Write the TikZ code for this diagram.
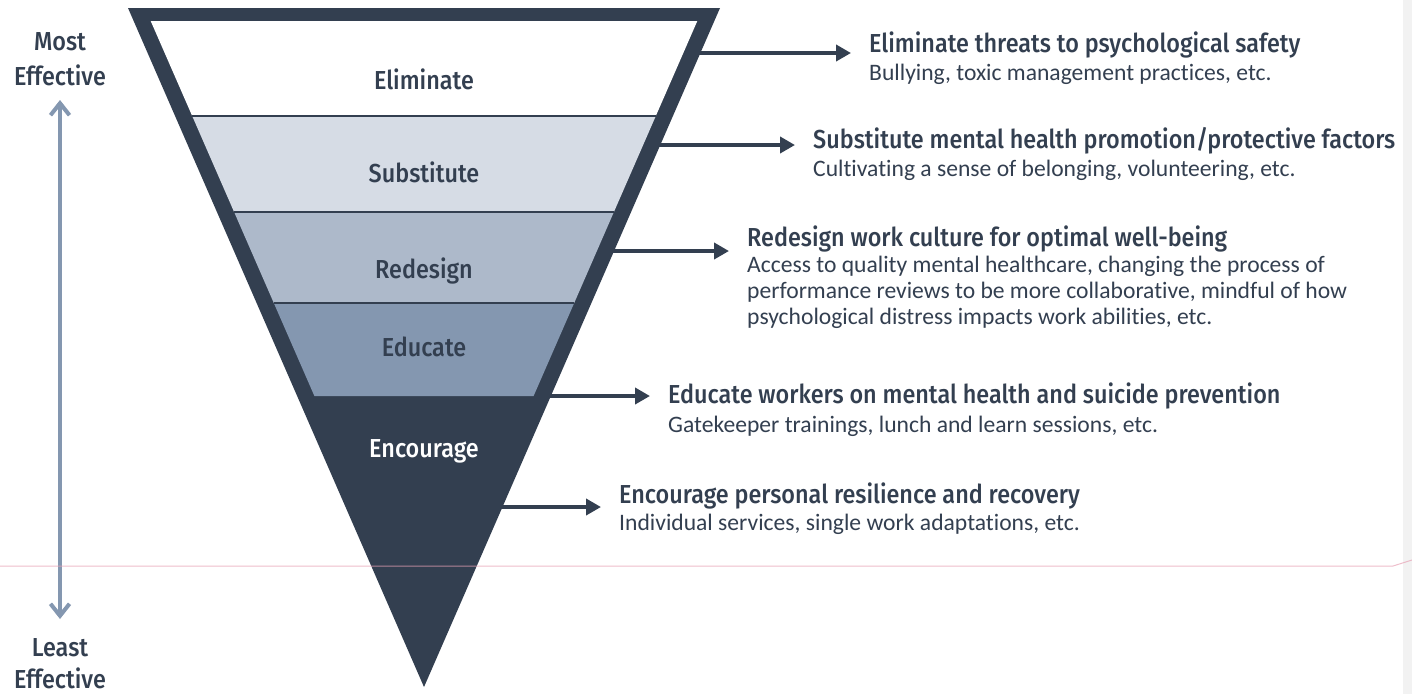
\documentclass[tikz,border=0pt]{standalone}
\usepackage{fontspec}
\setmainfont{Carlito}[Ligatures=NoCommon]
\newfontfamily\headfont[FakeStretch=0.9]{Fira Sans Medium}
\usetikzlibrary{arrows.meta}
\definecolor{navy}{HTML}{333F50}
\definecolor{bandB}{HTML}{D6DCE5}
\definecolor{bandC}{HTML}{ADB9CA}
\definecolor{bandD}{HTML}{8497B0}
\definecolor{axiscol}{HTML}{8497B0}
\definecolor{pinkline}{HTML}{E8A3B6}
\definecolor{stripcol}{HTML}{F2F2F2}
\begin{document}
\begin{tikzpicture}[x=1pt,y=-1pt,
  headtxt/.style={anchor=base west, inner sep=0pt, font=\headfont\fontsize{26}{30}\selectfont, text=navy},
  subtxt/.style={anchor=base west, inner sep=0pt, font=\fontsize{23.6}{27}\selectfont, text=navy},
  bandtxt/.style={anchor=base, inner sep=0pt, font=\headfont\fontsize{26}{30}\selectfont, text=navy},
  sidetxt/.style={anchor=base, inner sep=0pt, font=\headfont\fontsize{26}{30}\selectfont, text=navy},
  rarrow/.style={draw=navy, line width=4.5pt, -{Triangle[length=15pt,width=16pt]}, shorten >=18pt},
  axisarrow/.style={draw=axiscol, line width=4pt, {Straight Barb[length=12pt,width=19pt]}-{Straight Barb[length=12pt,width=19pt]}},
  sepline/.style={draw=navy, line width=2pt}]
\useasboundingbox (0,0) rectangle (1412,694);
\fill[white] (0,0) rectangle (1412,694);
\fill[stripcol] (1403,0) rectangle (1412,694);

% funnel
\fill[navy] (128,8) -- (720,8) -- (424,687) -- cycle;
\fill[white] (150.7,21) -- (697.3,21) -- (655.8,116) -- (192.2,116) -- cycle;
\fill[bandB] (192.2,116) -- (655.8,116) -- (613.9,212) -- (234.1,212) -- cycle;
\fill[bandC] (234.1,212) -- (613.9,212) -- (574.2,303) -- (273.8,303) -- cycle;
\fill[bandD] (273.8,303) -- (574.2,303) -- (533.6,396) -- (314.4,396) -- cycle;
\draw[sepline] (192.2,116) -- (655.8,116);
\draw[sepline] (234.1,212) -- (613.9,212);
\draw[sepline] (273.8,303) -- (574.2,303);

% band labels
\node[bandtxt] (bElim) at (424,89) {Eliminate};
\node[bandtxt] (bSubs) at (424,182) {Substitute};
\node[bandtxt] (bRede) at (424,278) {Redesign};
\node[bandtxt] (bEduc) at (424,356) {Educate};
\node[bandtxt, text=white] (bEnco) at (424,457) {Encourage};

% side labels and axis
\node[sidetxt] (most) at (60,50) {Most};
\node[sidetxt] (mostE) at (60,85) {Effective};
\node[sidetxt] (least) at (60,656) {Least};
\node[sidetxt] (leastE) at (60,688) {Effective};
\coordinate (axTop) at (60,100);
\coordinate (axBot) at (60,619);
\draw[axisarrow] (axTop) -- (axBot);

% right-hand texts
\node[headtxt] (h1) at (869,52) {Eliminate threats to psychological safety};
\node[subtxt] (s1) at (869,80) {Bullying, toxic management practices, etc.};
\node[headtxt] (h2) at (813,148) {Substitute mental health promotion/protective factors};
\node[subtxt] (s2) at (813,176) {Cultivating a sense of belonging, volunteering, etc.};
\node[headtxt] (h3) at (747,246) {Redesign work culture for optimal well-being};
\node[subtxt] (s3a) at (747,272) {Access to quality mental healthcare, changing the process of};
\node[subtxt] (s3b) at (747,298) {performance reviews to be more collaborative, mindful of how};
\node[subtxt] (s3c) at (747,324) {psychological distress impacts work abilities, etc.};
\node[headtxt] (h4) at (668,403) {Educate workers on mental health and suicide prevention};
\node[subtxt] (s4) at (668,432) {Gatekeeper trainings, lunch and learn sessions, etc.};
\node[headtxt] (h5) at (619,503) {Encourage personal resilience and recovery};
\node[subtxt] (s5) at (619,530) {Individual services, single work adaptations, etc.};

% arrows from funnel edge
\coordinate (e1) at (698,53);
\coordinate (e2) at (658,145);
\coordinate (e3) at (612,251);
\coordinate (e4) at (549,396);
\coordinate (e5) at (500,507);
\draw[rarrow] (e1) -- (e1 -| h1.west);
\draw[rarrow] (e2) -- (e2 -| h2.west);
\draw[rarrow] (e3) -- (e3 -| h3.west);
\draw[rarrow] (e4) -- (e4 -| h4.west);
\draw[rarrow] (e5) -- (e5 -| h5.west);

% pink guide line
\draw[pinkline, line width=1pt, opacity=0.7] (0,566) -- (1393,566) -- (1412,560);
\end{tikzpicture}
\end{document}
